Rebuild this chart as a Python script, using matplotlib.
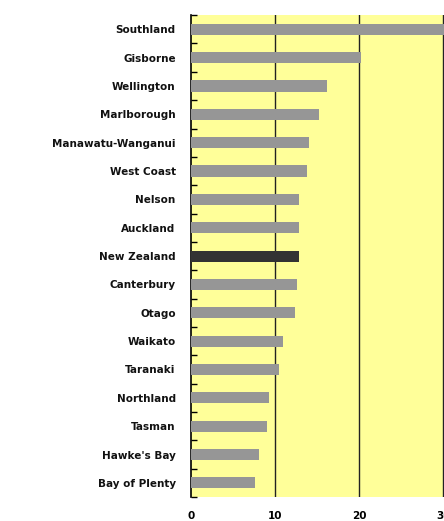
import numpy as np
import matplotlib.pyplot as plt

# Regions ordered from top to bottom
regions = [
    "Southland", "Gisborne", "Wellington", "Marlborough", "Manawatu-Wanganui",
    "West Coast", "Nelson", "Auckland", "New Zealand", "Canterbury", "Otago",
    "Waikato", "Taranaki", "Northland", "Tasman", "Hawke's Bay", "Bay of Plenty",
]
values = [31.0, 20.2, 16.2, 15.2, 14.0, 13.8, 12.9, 12.9, 12.9, 12.6, 12.4,
          10.9, 10.5, 9.3, 9.0, 8.1, 7.6]
xticks = [0, 10, 20, 30]

plt.rcParams['font.family'] = ['DejaVu Sans']

fig = plt.figure(figsize=(4.44, 5.21), dpi=100)
ax = fig.add_axes([0.430, 0.046, 0.587, 0.925])
ax.set_facecolor("#FFFF99")

y = np.arange(len(regions))
colors = ["#333333" if r == "New Zealand" else "#969696" for r in regions]
ax.barh(y, values, height=0.39, color=colors, zorder=3)

ax.set_xlim(0, 31)
ax.set_ylim(len(regions) - 0.5, -0.5)

ax.set_xticks(xticks)
ax.set_xticklabels([str(t) for t in xticks], fontsize=7.5, fontweight="bold")
ax.tick_params(axis="x", length=0, pad=10)
for t in xticks[1:]:
    ax.axvline(t, color="#222222", lw=1.0, zorder=2)

ax.set_yticks(y)
ax.set_yticklabels(regions, fontsize=7.5, fontweight="bold", color="#111111")
ax.tick_params(axis="y", which="major", length=0, pad=11)
ax.set_yticks(np.arange(len(regions) + 1) - 0.5, minor=True)
ax.tick_params(axis="y", which="minor", direction="in", length=4, width=1)

for s in ["top", "right", "bottom"]:
    ax.spines[s].set_visible(False)
ax.spines["left"].set_linewidth(1.2)

fig.savefig("out.png", dpi=100)
